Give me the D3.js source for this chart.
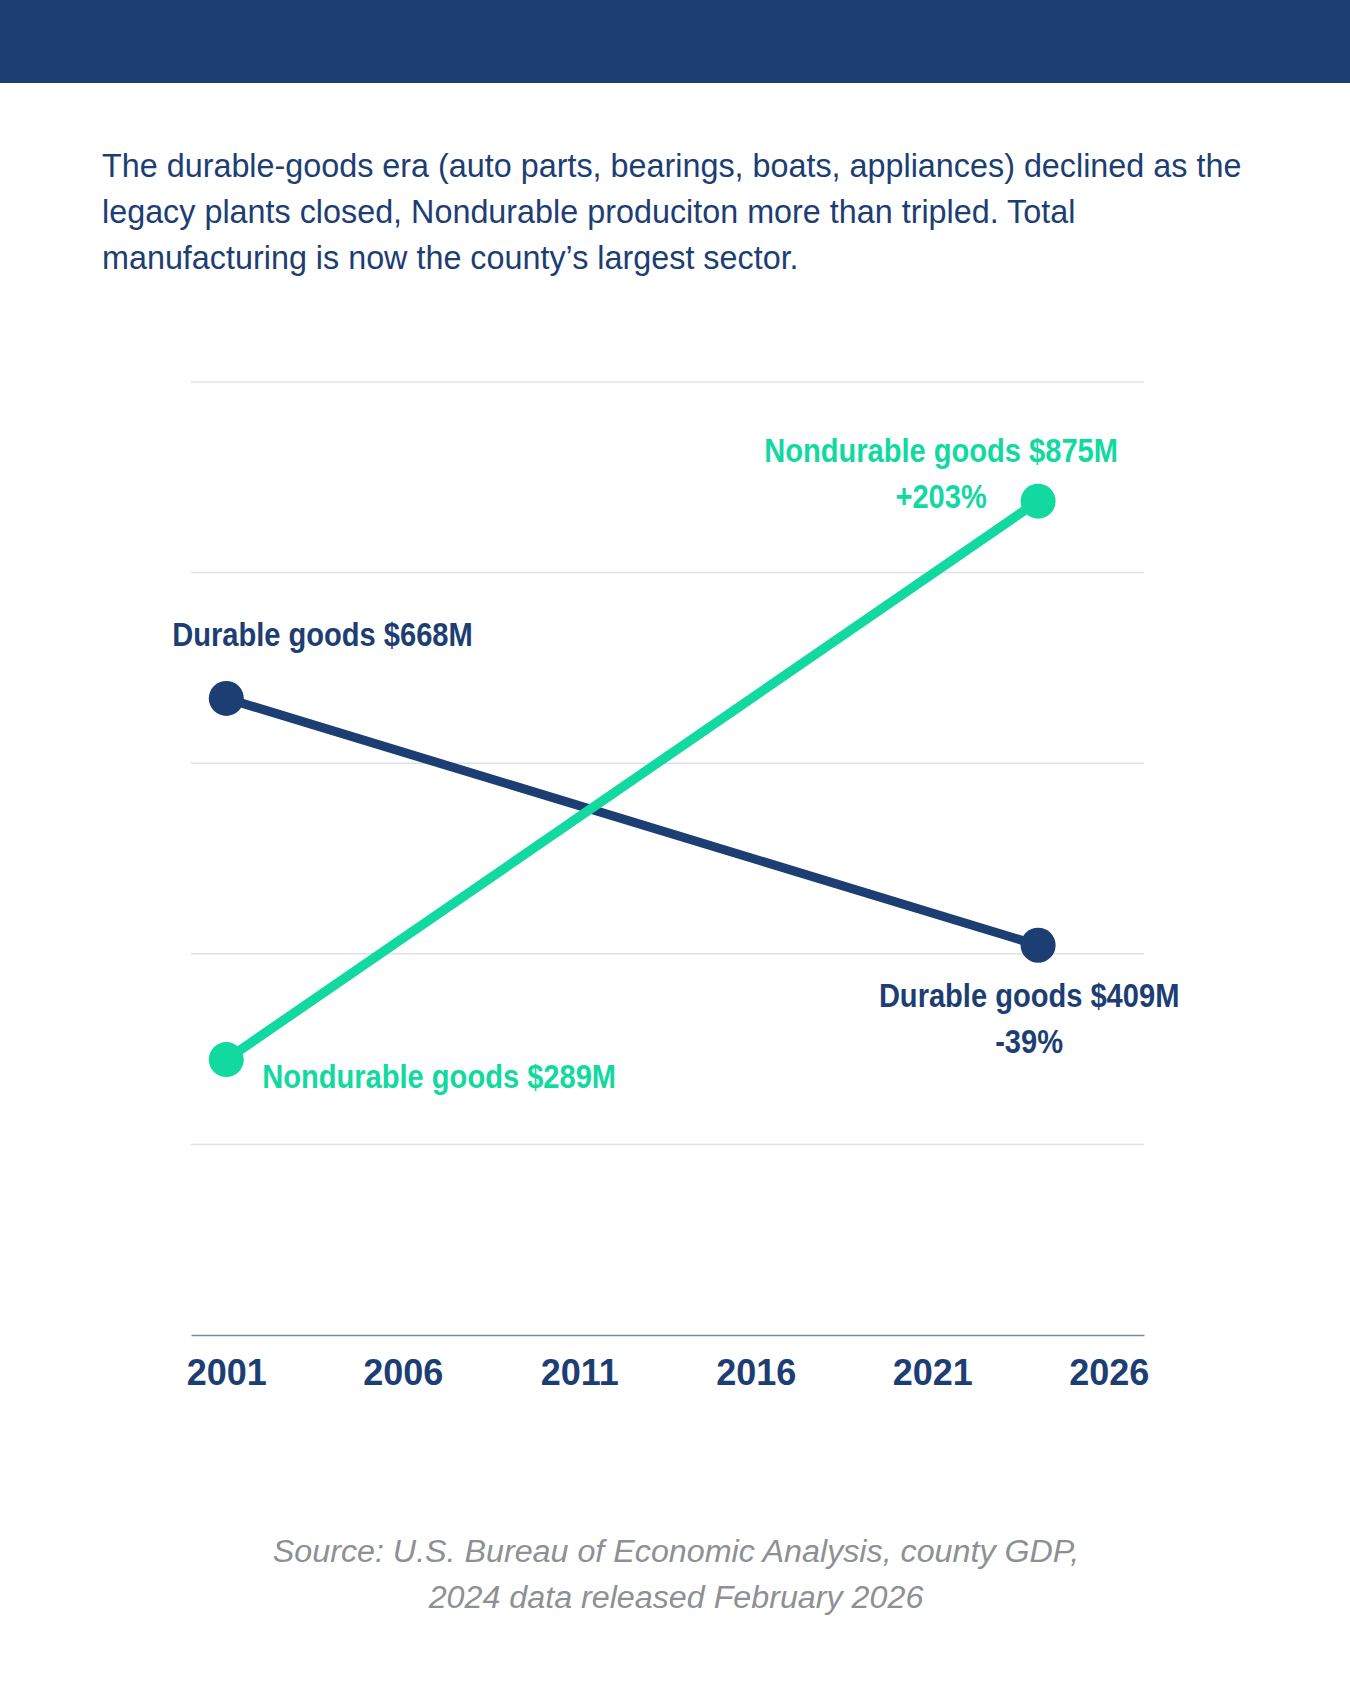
<!DOCTYPE html>
<html>
<head>
<meta charset="utf-8">
<script src="https://cdn.jsdelivr.net/npm/d3@7"></script>
<style>
  html, body { margin: 0; padding: 0; background: #ffffff; }
  svg { display: block; }
</style>
</head>
<body>
<svg id="chart" width="1350" height="1688"></svg>
<script>
// ---- data ----
const years = [2001, 2024];
const durableValues = [668, 409];
const nondurableValues = [289, 875];
const seriesNames = ["Durable goods", "Nondurable goods"];
const changeLabels = ["-39%", "+203%"];
const tickYears = [2001, 2006, 2011, 2016, 2021, 2026];
const gridValues = [200, 400, 600, 800, 1000];
const introLines = [
  "The durable-goods era (auto parts, bearings, boats, appliances) declined as the",
  "legacy plants closed, Nondurable produciton more than tripled. Total",
  "manufacturing is now the county\u2019s largest sector."
];
const sourceLines = [
  "Source: U.S. Bureau of Economic Analysis, county GDP,",
  "2024 data released February 2026"
];

// ---- styles ----
const NAVY = "#1d3e73";
const GREEN = "#11d9a0";
const GRID = "#dde2e8";
const AXIS = "#7f8b97";
const GRAY = "#8d9094";
const FONT = "'Liberation Sans', Arial, sans-serif";

// condense/expand text horizontally by a factor (the original uses a condensed face)
function condense(sel, factor) {
  sel.each(function () {
    const w = this.getComputedTextLength();
    d3.select(this).attr("textLength", w * factor).attr("lengthAdjust", "spacingAndGlyphs");
  });
}

const svg = d3.select("#chart");

// header band
svg.append("rect").attr("x", 0).attr("y", 0).attr("width", 1350).attr("height", 83).attr("fill", NAVY);

// intro paragraph
svg.append("g").selectAll("text").data(introLines).join("text")
  .attr("x", 102)
  .attr("y", (d, i) => 177 + i * 46)
  .attr("fill", NAVY)
  .attr("font-family", FONT)
  .attr("font-size", 33.5)
  .text(d => d)
  .call(condense, 0.965);

// scales
const x = d3.scaleLinear().domain([2000, 2027]).range([191, 1144]);
const y = d3.scaleLinear().domain([0, 1000]).range([1335, 382]);

// gridlines
svg.append("g").selectAll("line").data(gridValues).join("line")
  .attr("x1", x(2000)).attr("x2", x(2027))
  .attr("y1", d => y(d)).attr("y2", d => y(d))
  .attr("stroke", GRID).attr("stroke-width", 1.5);

// x axis
const xAxis = d3.axisBottom(x).tickValues(tickYears).tickFormat(d3.format("d")).tickSize(0).tickPadding(0);
const gx = svg.append("g").attr("transform", `translate(0,${y(0)})`).call(xAxis);
gx.select(".domain").attr("stroke", AXIS).attr("stroke-width", 1.5);
gx.selectAll("text")
  .attr("dy", null)
  .attr("y", 50)
  .attr("fill", NAVY)
  .attr("font-family", FONT)
  .attr("font-weight", "bold")
  .attr("font-size", 36);

// series
const series = [
  { name: seriesNames[0], values: durableValues, color: NAVY, width: 9 },
  { name: seriesNames[1], values: nondurableValues, color: GREEN, width: 9.5 }
];
const line = d3.line().x((d, i) => x(years[i])).y(d => y(d));

series.forEach(s => {
  svg.append("path")
    .datum(s.values)
    .attr("d", line)
    .attr("fill", "none")
    .attr("stroke", s.color)
    .attr("stroke-width", s.width);
});
series.forEach(s => {
  svg.append("g").selectAll("circle").data(s.values).join("circle")
    .attr("cx", (d, i) => x(years[i]))
    .attr("cy", d => y(d))
    .attr("r", 17.5)
    .attr("fill", s.color);
});

// labels
const fmt = v => `$${v}M`;
const lab = svg.append("g")
  .attr("font-family", FONT)
  .attr("font-weight", "bold")
  .attr("font-size", 34);

// Durable start
lab.append("text")
  .attr("x", x(years[0]) - 54)
  .attr("y", y(durableValues[0]) - 52)
  .attr("fill", NAVY)
  .text(`${seriesNames[0]} ${fmt(durableValues[0])}`);
// Durable end
lab.append("text")
  .attr("x", x(years[1]) - 9)
  .attr("y", y(durableValues[1]) + 62)
  .attr("text-anchor", "middle")
  .attr("fill", NAVY)
  .text(`${seriesNames[0]} ${fmt(durableValues[1])}`);
lab.append("text")
  .attr("x", x(years[1]) - 9)
  .attr("y", y(durableValues[1]) + 108)
  .attr("text-anchor", "middle")
  .attr("fill", NAVY)
  .text(changeLabels[0]);
// Nondurable start
lab.append("text")
  .attr("x", x(years[0]) + 36)
  .attr("y", y(nondurableValues[0]) + 28)
  .attr("fill", GREEN)
  .text(`${seriesNames[1]} ${fmt(nondurableValues[0])}`);
// Nondurable end
lab.append("text")
  .attr("x", x(years[1]) - 97)
  .attr("y", y(nondurableValues[1]) - 39)
  .attr("text-anchor", "middle")
  .attr("fill", GREEN)
  .text(`${seriesNames[1]} ${fmt(nondurableValues[1])}`);
lab.append("text")
  .attr("x", x(years[1]) - 97)
  .attr("y", y(nondurableValues[1]) + 7)
  .attr("text-anchor", "middle")
  .attr("fill", GREEN)
  .text(changeLabels[1]);

lab.selectAll("text").call(condense, 0.855);

// source
svg.append("g").selectAll("text").data(sourceLines).join("text")
  .attr("x", 676)
  .attr("y", (d, i) => 1562 + i * 46)
  .attr("text-anchor", "middle")
  .attr("fill", GRAY)
  .attr("font-family", FONT)
  .attr("font-style", "italic")
  .attr("font-size", 31)
  .text(d => d)
  .call(condense, 1.04);
</script>
</body>
</html>
